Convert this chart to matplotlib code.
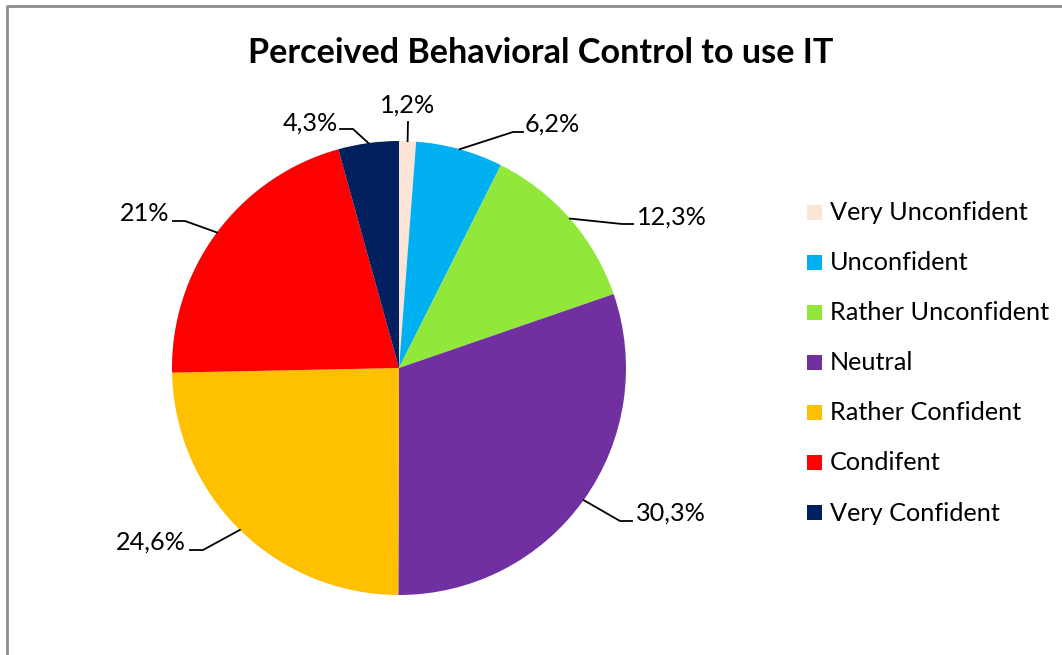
import matplotlib
matplotlib.use("Agg")
import matplotlib.pyplot as plt
from matplotlib.patches import Rectangle
import numpy as np

# ---- data ----
categories = ["Very Unconfident", "Unconfident", "Rather Unconfident", "Neutral",
              "Rather Confident", "Condifent", "Very Confident"]
values = [1.2, 6.2, 12.3, 30.3, 24.6, 21.0, 4.3]
value_labels = ["1,2%", "6,2%", "12,3%", "30,3%", "24,6%", "21%", "4,3%"]
colors = ["#FCE4D6", "#00B0F0", "#92E83A", "#7030A0", "#FFC000", "#FF0000", "#002060"]
title = "Perceived Behavioral Control to use IT"

W, H = 1062, 655
FONT = "Lato"

def Y(y):
    return H - y

fig = plt.figure(figsize=(W / 100, H / 100), dpi=100)
ax = fig.add_axes([0, 0, 1, 1])

cx, cy, R = 399, 368, 227
wedges, _ = ax.pie(values, colors=colors, startangle=90, counterclock=False,
                   center=(cx, Y(cy)), radius=R, frame=True,
                   wedgeprops=dict(linewidth=0))
ax.set_xlim(0, W)
ax.set_ylim(0, H)
ax.set_aspect("equal")
ax.axis("off")

# border
ax.plot([7, 7, W + 5], [Y(H + 5), Y(6), Y(6)], color="#8c8c8c", lw=2, solid_capstyle="butt")

ax.text(541, Y(63), title, ha="center", va="baseline", fontsize=24.6,
        fontweight="bold", family=FONT)

# label layout: (text x, baseline y, ha, elbow points list)
layout = [
    (408, 113, "center", [(408, 122)]),
    (525, 132, "left", [(523, 132), (513, 132)]),
    (637, 225, "left", [(633, 224), (622, 224)]),
    (636, 521, "left", [(632, 521), (620, 521)]),
    (186, 550, "right", [(190, 550), (203, 550)]),
    (169, 221, "right", [(173, 221), (185, 221)]),
    (338, 131, "right", [(340, 129), (353, 129)]),
]
total = sum(values)
cum = 0.0
for v, lab, (tx, ty, ha, pts) in zip(values, value_labels, layout):
    mid = cum + v / 2
    cum += v
    ang = np.deg2rad(90 - mid / total * 360)
    axp, ayp = cx + R * np.cos(ang), cy - R * np.sin(ang)
    xs = [p[0] for p in pts] + [axp]
    ys = [Y(p[1]) for p in pts] + [Y(ayp)]
    ax.plot(xs, ys, color="black", lw=1.3)
    ax.text(tx, Y(ty), lab, ha=ha, va="baseline", fontsize=18.2, family=FONT)

# legend
for i, (lab, col) in enumerate(zip(categories, colors)):
    yc = 212 + i * 50.1
    ax.add_patch(Rectangle((807, Y(yc + 7.5)), 15, 15, color=col, lw=0))
    ax.text(830, Y(yc + 8), lab, ha="left", va="baseline", fontsize=18.2, family=FONT)

fig.savefig("out.png", dpi=100)
